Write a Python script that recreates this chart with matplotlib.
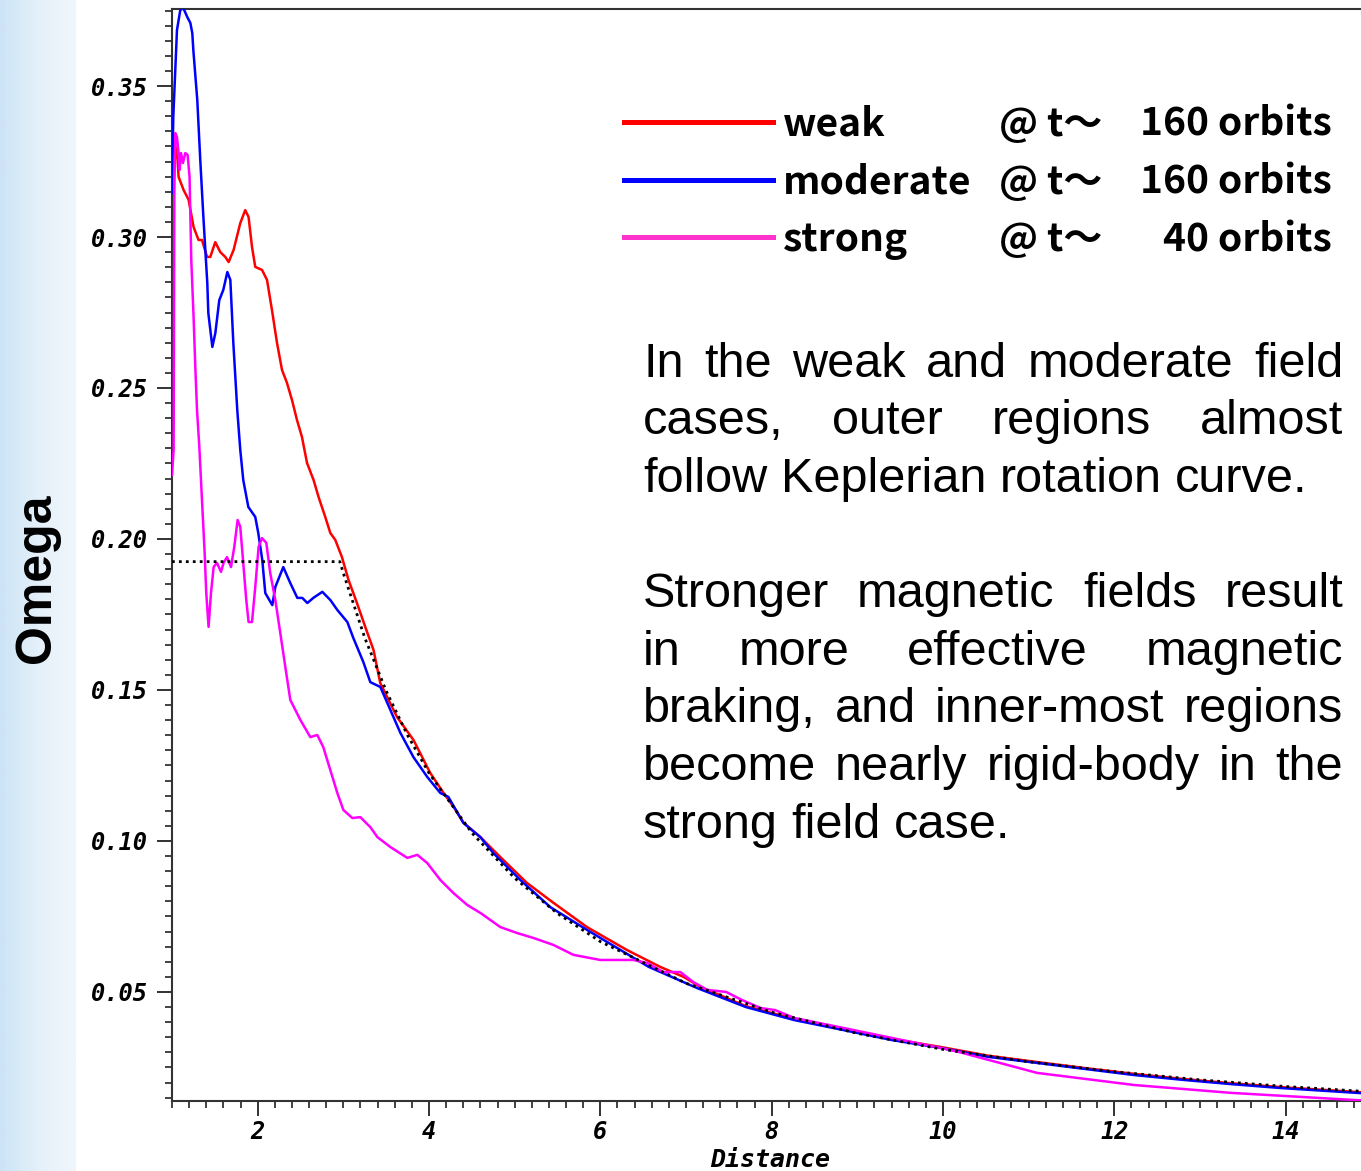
import numpy as np
import matplotlib
matplotlib.use("Agg")
import matplotlib.pyplot as plt
from matplotlib.ticker import MultipleLocator, FormatStrFormatter
from matplotlib.lines import Line2D
from matplotlib.colors import LinearSegmentedColormap
from matplotlib.font_manager import FontProperties

# Angular velocity profiles Omega(r) for three field strengths
r_weak = [1.04, 1.065, 1.077, 1.135, 1.194, 1.252, 1.310, 1.350, 1.409, 1.447, 1.505,
          1.564, 1.622, 1.661, 1.719, 1.797, 1.855, 1.894, 1.934, 1.972, 2.051, 2.109,
          2.167, 2.226, 2.284, 2.342, 2.401, 2.459, 2.517, 2.576, 2.653, 2.711, 2.789,
          2.848, 2.906, 2.984, 3.061, 3.159, 3.256, 3.353, 3.431, 3.626, 3.820, 4.015,
          4.170, 4.287, 4.404, 4.599, 4.832, 5.144, 5.454, 5.844, 6.311, 6.700, 6.972,
          7.167, 7.70, 8.264, 8.836, 9.40, 9.97, 10.53, 11.10, 11.66, 12.23, 12.80,
          13.36, 13.94, 14.88]
om_weak = [0.3300, 0.3255, 0.3199, 0.3156, 0.3123, 0.3033, 0.2990, 0.2990, 0.2934,
           0.2934, 0.2983, 0.2950, 0.2934, 0.2917, 0.2957, 0.3046, 0.3089, 0.3066,
           0.2967, 0.2901, 0.2891, 0.2858, 0.2758, 0.2649, 0.2560, 0.2517, 0.2460,
           0.2394, 0.2338, 0.2252, 0.2195, 0.2139, 0.2073, 0.2020, 0.1997, 0.1940,
           0.1864, 0.1788, 0.1709, 0.1632, 0.1523, 0.1411, 0.1334, 0.1225, 0.1159,
           0.1113, 0.1060, 0.1013, 0.0947, 0.0861, 0.0795, 0.0715, 0.0639, 0.0583,
           0.0550, 0.0517, 0.0453, 0.0411, 0.0377, 0.0345, 0.0318, 0.0289, 0.0268,
           0.0248, 0.0229, 0.0212, 0.0198, 0.0185, 0.0168]

r_mod = [1.0, 1.015, 1.058, 1.097, 1.132, 1.179, 1.214, 1.237, 1.249, 1.295, 1.330,
         1.365, 1.389, 1.412, 1.424, 1.471, 1.506, 1.552, 1.599, 1.646, 1.681, 1.716,
         1.762, 1.797, 1.832, 1.891, 1.972, 2.007, 2.054, 2.089, 2.171, 2.206, 2.299,
         2.381, 2.463, 2.521, 2.580, 2.650, 2.755, 2.848, 2.930, 3.047, 3.117, 3.233,
         3.315, 3.432, 3.549, 3.666, 3.818, 3.980, 4.132, 4.226, 4.401, 4.599, 4.751,
         5.066, 5.416, 5.848, 6.0, 6.566, 7.13, 7.70, 8.264, 8.836, 9.40, 9.97, 10.53,
         11.10, 11.66, 12.23, 12.80, 13.36, 13.94, 14.88]
om_mod = [0.3146, 0.3397, 0.3685, 0.3752, 0.3758, 0.3728, 0.3709, 0.3675, 0.3619,
          0.3454, 0.3255, 0.3073, 0.2957, 0.2848, 0.2748, 0.2636, 0.2682, 0.2791,
          0.2825, 0.2884, 0.2858, 0.2649, 0.2427, 0.2295, 0.2195, 0.2106, 0.2073,
          0.2020, 0.1930, 0.1821, 0.1781, 0.1841, 0.1907, 0.1854, 0.1805, 0.1805,
          0.1788, 0.1805, 0.1825, 0.1798, 0.1765, 0.1725, 0.1672, 0.1593, 0.1526,
          0.1510, 0.1434, 0.1358, 0.1278, 0.1212, 0.1159, 0.1146, 0.1060, 0.1013,
          0.0960, 0.0871, 0.0781, 0.0705, 0.0679, 0.0583, 0.0513, 0.0450, 0.0407,
          0.0374, 0.0341, 0.0315, 0.0285, 0.0265, 0.0245, 0.0225, 0.0209, 0.0195,
          0.0182, 0.0165]

r_strong = [1.0, 1.019, 1.027, 1.039, 1.058, 1.077, 1.089, 1.105, 1.128, 1.155, 1.182,
            1.205, 1.225, 1.252, 1.272, 1.292, 1.319, 1.350, 1.381, 1.400, 1.427, 1.455,
            1.486, 1.525, 1.572, 1.602, 1.642, 1.689, 1.727, 1.766, 1.797, 1.829, 1.867,
            1.894, 1.934, 1.972, 2.011, 2.051, 2.101, 2.147, 2.206, 2.264, 2.323, 2.381,
            2.498, 2.615, 2.696, 2.766, 2.848, 2.930, 3.000, 3.105, 3.198, 3.315, 3.397,
            3.549, 3.747, 3.864, 3.980, 4.132, 4.284, 4.447, 4.599, 4.832, 5.031, 5.218,
            5.451, 5.685, 6.0, 6.385, 6.549, 6.735, 6.934, 7.085, 7.249, 7.47, 7.65,
            7.87, 8.04, 8.264, 8.836, 9.40, 9.97, 10.19, 11.10, 12.23, 13.36, 14.88]
om_strong = [0.2212, 0.2295, 0.3146, 0.3344, 0.3331, 0.3278, 0.3222, 0.3278, 0.3245,
             0.3278, 0.3272, 0.3199, 0.2924, 0.2735, 0.2570, 0.2427, 0.2305, 0.2129,
             0.1954, 0.1821, 0.1709, 0.1821, 0.1907, 0.1921, 0.1891, 0.1921, 0.1940,
             0.1907, 0.1974, 0.2063, 0.2040, 0.1930, 0.1798, 0.1725, 0.1725, 0.1841,
             0.1974, 0.2003, 0.1987, 0.1887, 0.1798, 0.1689, 0.1576, 0.1467, 0.1401,
             0.1344, 0.1351, 0.1311, 0.1235, 0.1159, 0.1103, 0.1076, 0.1079, 0.1046,
             0.1013, 0.0980, 0.0944, 0.0954, 0.0927, 0.0871, 0.0828, 0.0788, 0.0762,
             0.0715, 0.0695, 0.0679, 0.0656, 0.0623, 0.0606, 0.0606, 0.0596, 0.0566,
             0.0566, 0.0533, 0.0507, 0.0500, 0.0474, 0.0447, 0.0440, 0.0414, 0.0381,
             0.0348, 0.0315, 0.0301, 0.0232, 0.0192, 0.0166, 0.0141]

# Keplerian reference: flat core, then falling branch
r_kep = [1.0, 2.96, 3.0, 3.25, 3.5, 3.75, 4.0, 4.5, 5.0, 5.5, 6.0, 7.0, 8.0, 9.0,
         10.0, 11.0, 12.0, 13.0, 14.0, 14.9]
om_kep = [0.1925, 0.1925, 0.1887, 0.1673, 0.1497, 0.1350, 0.1225, 0.1027, 0.0877,
          0.0760, 0.0667, 0.0529, 0.0433, 0.0363, 0.0310, 0.0269, 0.0236, 0.0209,
          0.0187, 0.0171]

legend_names = ["weak", "moderate", "strong"]
legend_times = ["160 orbits", "160 orbits", "40 orbits"]
legend_colors = ["#ff0000", "#0000ff", "#ff33cc"]

para1 = [["In", "the", "weak", "and", "moderate", "field"],
         ["cases,", "outer", "regions", "almost"],
         ["follow", "Keplerian", "rotation", "curve."]]
para2 = [["Stronger", "magnetic", "fields", "result"],
         ["in", "more", "effective", "magnetic"],
         ["braking,", "and", "inner-most", "regions"],
         ["become", "nearly", "rigid-body", "in", "the"],
         ["strong", "field", "case."]]

W, H = 1361, 1171
fig = plt.figure(figsize=(W / 100, H / 100), dpi=100)
fig.patch.set_facecolor("white")

# pale blue strip down the left edge
bg = fig.add_axes([0, 0, 76 / W, 1])
grad = np.linspace(0, 1, 64)[None, :]
cm_bg = LinearSegmentedColormap.from_list("bg", ["#cde4f6", "#e4f0fa", "#f0f7fc"])
bg.imshow(grad, aspect="auto", cmap=cm_bg, extent=[0, 1, 0, 1])
bg.set_axis_off()

ax = fig.add_axes([172 / W, 1 - 1101 / H, (W - 172) / W, (1101 - 9) / H])
ax.plot(r_weak, om_weak, color="#ff0000", lw=1.8, zorder=3)
ax.plot(r_mod, om_mod, color="#0000ff", lw=1.8, zorder=4)
ax.plot(r_strong, om_strong, color="#ff00ff", lw=1.8, zorder=5)
ax.plot(r_kep, om_kep, color="black", lw=2.0, linestyle=(0, (1, 1.5)), zorder=6)

ax.set_xlim(1.0, 14.88)
ax.set_ylim(0.0139, 0.3755)
ax.xaxis.set_major_locator(MultipleLocator(2))
ax.xaxis.set_minor_locator(MultipleLocator(0.2))
ax.yaxis.set_major_locator(MultipleLocator(0.05))
ax.yaxis.set_minor_locator(MultipleLocator(0.005))
ax.yaxis.set_major_formatter(FormatStrFormatter("%.2f"))
ax.tick_params(which="major", direction="out", length=11, width=1.3, color="#222222", pad=6)
ax.tick_params(axis="x", which="major", pad=3)
ax.tick_params(which="minor", direction="out", length=5, width=1.2, color="#222222")
for s in ["left", "bottom", "top"]:
    ax.spines[s].set_linewidth(1.5)
    ax.spines[s].set_color("#333333")
ax.spines["right"].set_visible(False)

tick_fp = FontProperties(family="DejaVu Sans Mono", weight="bold", style="oblique", size=17)
for lab in ax.get_xticklabels() + ax.get_yticklabels():
    lab.set_fontproperties(tick_fp)

fig.text(770 / W, 1 - 1167 / H, "Distance", ha="center", va="baseline",
         family="DejaVu Sans Mono", weight="bold", style="oblique", fontsize=18)
fig.text(37 / W, 1 - 578 / H, "Omega", rotation=90, ha="center", va="center",
         family="Liberation Sans", weight="bold", fontsize=36)

# legend drawn by hand in figure pixels
rows_y = [122, 180, 237]
leg_font = dict(family=["Noto Sans CJK JP", "DejaVu Sans"], weight="bold", fontsize=28)
for name, tm, col, yp in zip(legend_names, legend_times, legend_colors, rows_y):
    fig.add_artist(Line2D([624 / W, 773 / W], [1 - yp / H, 1 - yp / H],
                          color=col, lw=3.6, transform=fig.transFigure))
    yb = 1 - (yp + 14) / H
    fig.text(783 / W, yb, name, va="baseline", ha="left", **leg_font)
    fig.text(999 / W, yb, "@ t〜", va="baseline", ha="left", **leg_font)
    fig.text(1332 / W, yb, tm, va="baseline", ha="right", **leg_font)

# justified body text
fig.canvas.draw()
renderer = fig.canvas.get_renderer()
body_font = dict(family="Liberation Sans", fontsize=35, va="baseline", ha="left")
X0, X1 = 643, 1343

probe_a = fig.text(0, 0, "n n", **body_font)
probe_b = fig.text(0, 0, "nn", **body_font)
space_w = (probe_a.get_window_extent(renderer).width
           - probe_b.get_window_extent(renderer).width)
probe_a.remove()
probe_b.remove()


def place_paragraph(lines, y_first, step):
    for i, words in enumerate(lines):
        y = 1 - (y_first + i * step) / H
        objs = [fig.text(0, y, w, **body_font) for w in words]
        widths = [o.get_window_extent(renderer).width for o in objs]
        last = i == len(lines) - 1
        if not last and len(objs) > 1:
            gap = (X1 - X0 - sum(widths)) / (len(objs) - 1)
        else:
            gap = space_w
        x = X0
        for o, w in zip(objs, widths):
            o.set_x(x / W)
            x += w + gap


place_paragraph(para1, 377, 57.5)
place_paragraph(para2, 607, 57.7)

fig.savefig("out.png", dpi=100)
